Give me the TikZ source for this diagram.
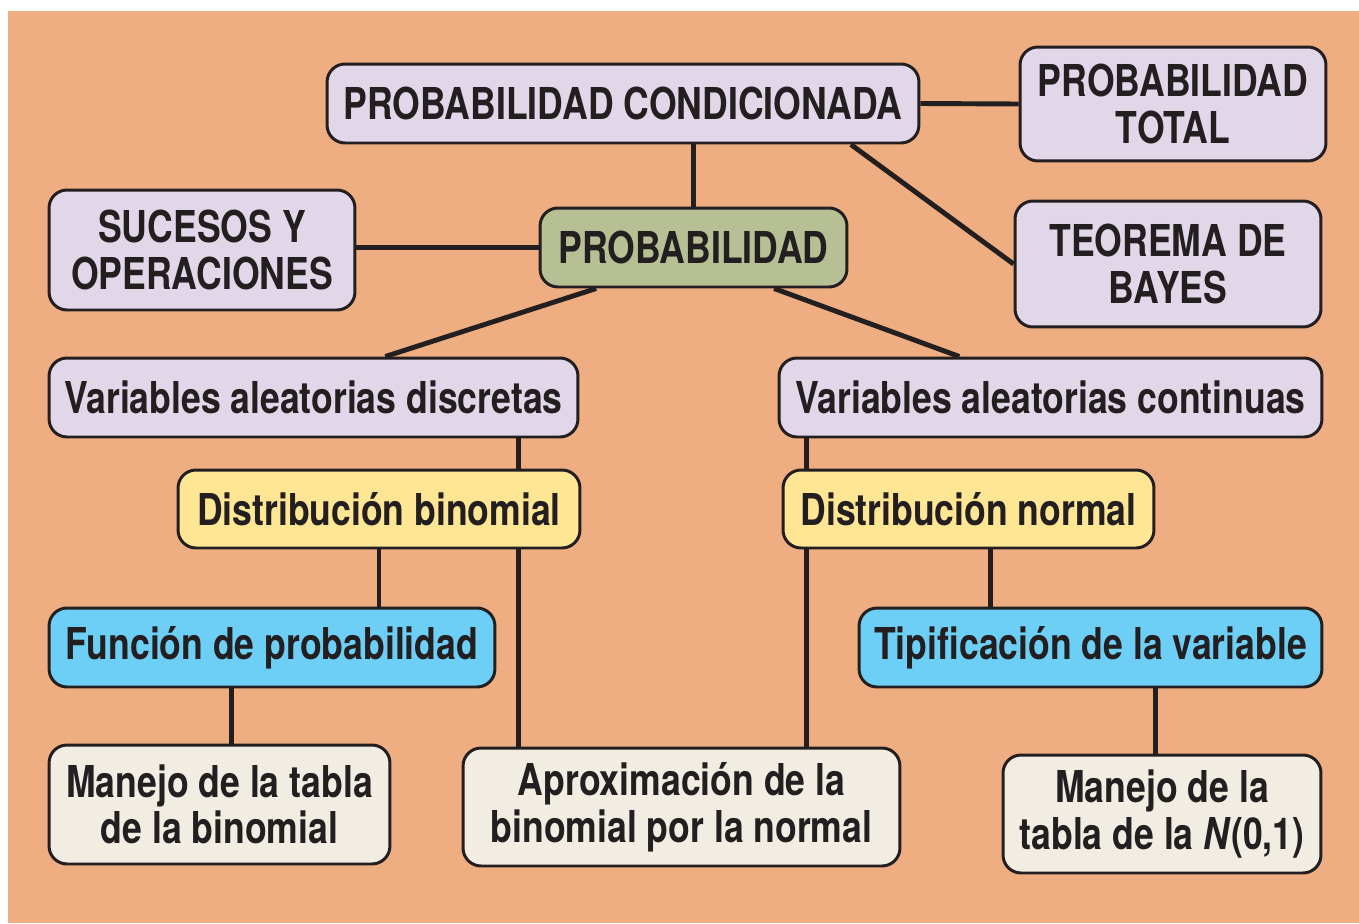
\documentclass[tikz,border=0pt]{standalone}
\usepackage{fontspec}
\setmainfont{TeX Gyre Heros}[FakeStretch=0.81]
\usetikzlibrary{calc}
\definecolor{fondo}{HTML}{EEAE81}
\definecolor{tinta}{HTML}{231F20}
\definecolor{lila}{HTML}{E2D7E8}
\definecolor{oliva}{HTML}{B7BF95}
\definecolor{amarillo}{HTML}{FFE695}
\definecolor{celeste}{HTML}{6DCFF6}
\definecolor{crema}{HTML}{F2EDE2}

\begin{document}
\begin{tikzpicture}[x=0.02cm, y=-0.02cm]
      \tikzstyle{caja} = [rectangle, rounded corners=0.36cm, draw=tinta, line width=1.7pt, text=tinta, font=\fontsize{25}{26.5}\selectfont\bfseries, align=center, inner sep=2pt]
      \tikzstyle{lilabox} = [caja, fill=lila]
      \tikzstyle{olivabox} = [caja, fill=oliva]
      \tikzstyle{amabox} = [caja, fill=amarillo]
      \tikzstyle{celbox} = [caja, fill=celeste]
      \tikzstyle{cremabox} = [caja, fill=crema]
      \tikzstyle{enlace} = [draw=tinta, line width=2.8pt]

      \fill[white] (0,0) rectangle (1359,923);
      \fill[fondo] (8,11) rectangle (1359,923);
      \useasboundingbox (0,0) rectangle (1359,923);

      % fila superior
      \node (cond) [lilabox, minimum width=11.84cm, minimum height=1.58cm] at (623,103.5) {PROBABILIDAD CONDICIONADA};
      \node (total) [lilabox, minimum width=6.12cm, minimum height=2.28cm] at (1173,104) {PROBABILIDAD\\TOTAL};
      \node (bayes) [lilabox, minimum width=6.12cm, minimum height=2.52cm] at (1168,264) {TEOREMA DE\\BAYES};
      \node (suc) [lilabox, minimum width=6.12cm, minimum height=2.4cm] at (202,250) {SUCESOS Y\\OPERACIONES};
      \node (prob) [olivabox, minimum width=6.14cm, minimum height=1.58cm] at (693.5,247.5) {PROBABILIDAD};

      % variables
      \node (disc) [lilabox, minimum width=10.58cm, minimum height=1.58cm] at (313.5,397.5) {Variables aleatorias discretas};
      \node (cont) [lilabox, minimum width=10.86cm, minimum height=1.58cm] at (1050.5,397.5) {Variables aleatorias continuas};
      \node (bin) [amabox, minimum width=8.04cm, minimum height=1.56cm] at (379,509) {Distribución binomial};
      \node (norm) [amabox, minimum width=7.42cm, minimum height=1.56cm] at (968.5,509) {Distribución normal};
      \node (fun) [celbox, minimum width=8.92cm, minimum height=1.58cm] at (272,647.5) {Función de probabilidad};
      \node (tip) [celbox, minimum width=9.26cm, minimum height=1.58cm] at (1090.5,647.5) {Tipificación de la variable};

      % fila inferior
      \node (manB) [cremabox, minimum width=6.82cm, minimum height=2.38cm] at (219.5,804.5) {Manejo de la tabla\\de la binomial};
      \node (aprox) [cremabox, minimum width=8.74cm, minimum height=2.36cm] at (681.5,807) {Aproximación de la\\binomial por la normal};
      \node (manN) [cremabox, minimum width=6.36cm, minimum height=2.36cm] at (1162,814) {Manejo de la\\tabla de la \textit{N}(0,1)};

      \draw [enlace] (cond.east) -- (total.west);
      \draw [enlace] (prob.north) -- (prob.north |- cond.south);
      \draw [enlace] ($(cond.south west)!0.883!(cond.south east)$) -- (bayes.west);
      \draw [enlace] (prob.west) -- (prob.west -| suc.east);
      \draw [enlace] ($(prob.south west)!0.186!(prob.south east)$) -- ($(disc.north west)!0.635!(disc.north east)$);
      \draw [enlace] ($(prob.south west)!0.76!(prob.south east)$) -- ($(cont.north west)!0.333!(cont.north east)$);

      \draw [enlace] ($(disc.south west)!0.885!(disc.south east)$) coordinate (d1) -- (d1 |- bin.north);
      \draw [enlace] (d1 |- bin.south) -- (d1 |- aprox.north);
      \draw [enlace] ($(cont.south west)!0.053!(cont.south east)$) coordinate (c1) -- (c1 |- norm.north);
      \draw [enlace] (c1 |- norm.south) -- (c1 |- aprox.north);
      \draw [enlace] (bin.south) -- (bin.south |- fun.north);
      \draw [enlace] ($(fun.south west)!0.41!(fun.south east)$) coordinate (f1) -- (f1 |- manB.north);
      \draw [enlace] ($(norm.south west)!0.56!(norm.south east)$) coordinate (n1) -- (n1 |- tip.north);
      \draw [enlace] ($(tip.south west)!0.64!(tip.south east)$) coordinate (t1) -- (t1 |- manN.north);
\end{tikzpicture}
\end{document}
